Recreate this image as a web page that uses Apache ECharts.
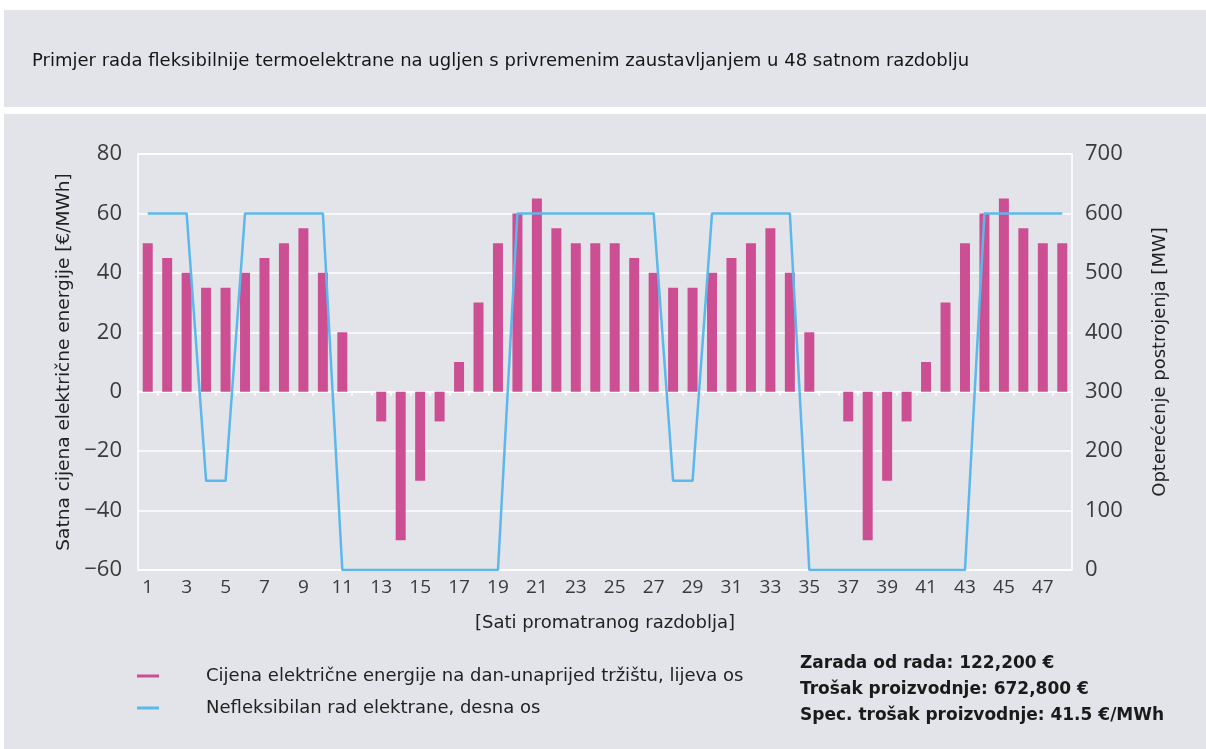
<!DOCTYPE html>
<html lang="hr">

<head>
  <meta charset="UTF-8">
  <script type="text/javascript" src="https://cdn.jsdelivr.net/npm/echarts@6/dist/echarts.min.js"></script>
  <title>Primjer rada termoelektrane</title>
  <style>
    html,
    body {
      margin: 0;
      background: #fff;
    }

    .band {
      position: absolute;
      background: #e2e4e9;
    }

    #chart {
      position: absolute;
      left: 0;
      top: 0;
      width: 1206px;
      height: 749px;
    }
  </style>
</head>

<body>
  <div class="band" style="left: 4px; top: 10px; width: 1202px; height: 97px;"></div>
  <div class="band" style="left: 4px; top: 114px; width: 1202px; height: 635px;"></div>
  <div id="chart"></div>

  <script type="text/javascript">
    // sati 1..48
    var hours = [];
    for (var h = 1; h <= 48; h++) hours.push(String(h));

    // cijena na dan-unaprijed trzistu [EUR/MWh]
    var price = [50, 45, 40, 35, 35, 40, 45, 50, 55, 40, 20, 0,
      -10, -50, -30, -10, 10, 30, 50, 60, 65, 55, 50, 50,
      50, 45, 40, 35, 35, 40, 45, 50, 55, 40, 20, 0,
      -10, -50, -30, -10, 10, 30, 50, 60, 65, 55, 50, 50];

    // nefleksibilan rad elektrane [MW]
    var load = [600, 600, 600, 150, 150, 600, 600, 600, 600, 600, 0, 0,
      0, 0, 0, 0, 0, 0, 0, 600, 600, 600, 600, 600,
      600, 600, 600, 150, 150, 600, 600, 600, 600, 600, 0, 0,
      0, 0, 0, 0, 0, 0, 0, 600, 600, 600, 600, 600];

    var stats = ['Zarada od rada: 122,200 €', 'Trošak proizvodnje: 672,800 €', 'Spec. trošak proizvodnje: 41.5 €/MWh'];

    var textFont = '"DejaVu Sans", "Liberation Sans", sans-serif';
    var numFont = '"Open Sans", "Liberation Sans", sans-serif';

    var myChart = echarts.init(document.getElementById('chart'), null, { renderer: 'canvas' });

    var option = {
      animation: false,
      title: {
        text: 'Primjer rada fleksibilnije termoelektrane na ugljen s privremenim zaustavljanjem u 48 satnom razdoblju',
        left: 27,
        top: 47,
        textStyle: { fontFamily: textFont, fontSize: 18, fontWeight: 'normal', color: '#161616' }
      },
      grid: {
        left: 138,
        right: 134,
        top: 154,
        bottom: 179,
        show: true,
        borderColor: '#ffffff',
        borderWidth: 1.5,
        backgroundColor: 'transparent'
      },
      legend: {
        orient: 'vertical',
        left: 137,
        top: 667,
        padding: 0,
        itemGap: 14,
        icon: 'rect',
        itemWidth: 22,
        itemHeight: 3,
        textStyle: { fontFamily: textFont, fontSize: 18, color: '#222', padding: [0, 0, 0, 42] },
        data: ['Cijena električne energije na dan-unaprijed tržištu, lijeva os', 'Nefleksibilan rad elektrane, desna os']
      },
      graphic: [{
        type: 'text',
        left: 800,
        top: 651,
        style: {
          text: stats.join('\n'),
          font: 'bold 17px ' + textFont,
          lineHeight: 26,
          fill: '#1a1a1a'
        }
      }],
      xAxis: [{
        type: 'category',
        data: hours,
        position: 'bottom',
        name: '[Sati promatranog razdoblja]',
        nameLocation: 'middle',
        nameGap: 44,
        nameTextStyle: { fontFamily: textFont, fontSize: 18, color: '#222' },
        axisLine: { show: false, onZero: false },
        axisTick: { show: false },
        axisLabel: { interval: 1, margin: 8, fontFamily: numFont, fontSize: 19, color: '#3a3a3a' }
      }, {
        type: 'category',
        data: hours,
        position: 'bottom',
        axisLine: { show: true, onZero: true, onZeroAxisIndex: 0, lineStyle: { color: '#ffffff', width: 1.5 } },
        axisTick: { show: true, length: 4, lineStyle: { color: '#ffffff', width: 1.5 } },
        axisLabel: { show: false }
      }],
      yAxis: [{
        type: 'value',
        min: -60,
        max: 80,
        interval: 20,
        name: 'Satna cijena električne energije [€/MWh]',
        nameLocation: 'middle',
        nameRotate: 90,
        nameGap: 62,
        nameTextStyle: { fontFamily: textFont, fontSize: 18.5, color: '#222' },
        axisLine: { show: false },
        axisTick: { show: false },
        axisLabel: {
          margin: 16, fontFamily: numFont, fontSize: 22, color: '#3a3a3a',
          formatter: function (v) { return v < 0 ? '\u2212' + Math.abs(v) : String(v); }
        },
        splitLine: { lineStyle: { color: '#ffffff', width: 1.5 } }
      }, {
        type: 'value',
        min: 0,
        max: 700,
        interval: 100,
        position: 'right',
        name: 'Opterećenje postrojenja [MW]',
        nameLocation: 'middle',
        nameRotate: 90,
        nameGap: 79,
        nameTextStyle: { fontFamily: textFont, fontSize: 18, color: '#222' },
        axisLine: { show: false },
        axisTick: { show: false },
        axisLabel: { margin: 13, fontFamily: numFont, fontSize: 22, color: '#3a3a3a' },
        splitLine: { show: false }
      }],
      series: [{
        name: 'Cijena električne energije na dan-unaprijed tržištu, lijeva os',
        type: 'bar',
        xAxisIndex: 0,
        yAxisIndex: 0,
        barWidth: 10,
        itemStyle: { color: '#cc4f93' },
        data: price
      }, {
        name: 'Nefleksibilan rad elektrane, desna os',
        type: 'line',
        xAxisIndex: 0,
        yAxisIndex: 1,
        symbol: 'none',
        lineStyle: { color: '#5cb8ea', width: 2.5 },
        itemStyle: { color: '#5cb8ea' },
        data: load,
        z: 3
      }]
    };

    myChart.setOption(option);
  </script>
</body>

</html>
